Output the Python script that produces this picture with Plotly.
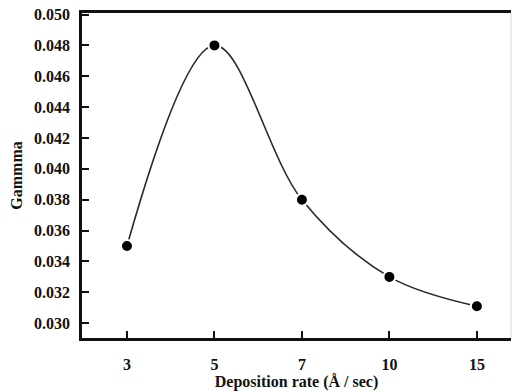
import plotly.graph_objects as go

# Deposition rate categories (Å/sec) and measured gamma values
rates = ["3", "5", "7", "10", "15"]
gamma = [0.035, 0.048, 0.038, 0.033, 0.0311]
y_ticks = [0.030, 0.032, 0.034, 0.036, 0.038, 0.040, 0.042, 0.044, 0.046, 0.048, 0.050]

FONT = "Liberation Serif"
INK = "#111111"

fig = go.Figure()

# smooth guide curve through the measurements
fig.add_trace(go.Scatter(
    x=list(range(len(rates))), y=gamma,
    mode="lines",
    line=dict(color="#2a2a2a", width=1.6, shape="spline", smoothing=1.0),
    hoverinfo="skip", showlegend=False,
))
# measured points (white rim leaves a small gap to the curve)
fig.add_trace(go.Scatter(
    x=list(range(len(rates))), y=gamma,
    mode="markers",
    marker=dict(color="black", size=12, line=dict(color="white", width=2)),
    showlegend=False,
))

fig.update_layout(
    width=517, height=392,
    margin=dict(l=82, r=6, t=11, b=53),
    paper_bgcolor="white", plot_bgcolor="white",
    font=dict(family=FONT, color=INK),
    xaxis=dict(
        range=[-0.514, 4.39],
        tickmode="array", tickvals=list(range(len(rates))), ticktext=rates,
        ticks="inside", ticklen=7, tickwidth=2, tickcolor=INK,
        showline=True, linecolor=INK, linewidth=2.5, mirror=True,
        showgrid=False, zeroline=False,
        tickfont=dict(family=FONT, size=16, color=INK, weight="bold"),
        ticklabelstandoff=10,
        title=dict(text="<b>Deposition rate (Å / sec)</b>",
                   font=dict(family=FONT, size=16, color=INK), standoff=2),
    ),
    yaxis=dict(
        range=[0.02904, 0.0501],
        tickmode="array", tickvals=y_ticks,
        ticktext=[f"{v:.3f}" for v in y_ticks],
        ticks="inside", ticklen=7, tickwidth=2, tickcolor=INK,
        showline=True, linecolor=INK, linewidth=2.5,
        showgrid=False, zeroline=False,
        tickfont=dict(family=FONT, size=16, color=INK, weight="bold"),
        ticklabelstandoff=6,
        title=dict(text="<b>Gammma</b>",
                   font=dict(family=FONT, size=16, color=INK), standoff=8),
    ),
    shapes=[dict(type="line", xref="paper", yref="paper",
                 x0=1, x1=1, y0=0, y1=1,
                 line=dict(color="#d8d8d8", width=1))],
)

fig.write_html("out.html")
